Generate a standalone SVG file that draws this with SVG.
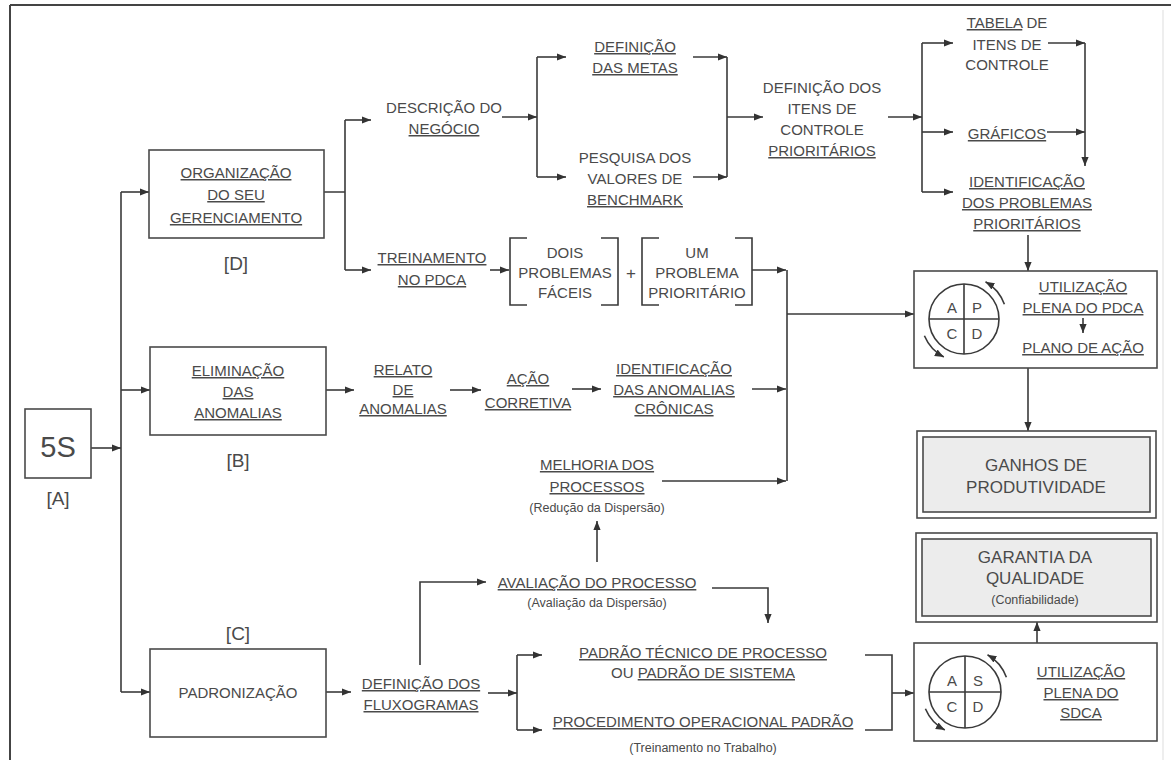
<svg xmlns="http://www.w3.org/2000/svg" width="1171" height="760" viewBox="0 0 1171 760">
<style>
text{font-family:"Liberation Sans",Arial,sans-serif;font-size:15px;fill:#4a4a4a;text-anchor:middle}
.u{text-decoration:underline}
.sm{font-size:12.5px}
.big{font-size:17px}
.lbl{font-size:19px}
.box{fill:#fff;stroke:#4a4a4a;stroke-width:1.6}
.gbox{fill:#ececec;stroke:#4a4a4a;stroke-width:1.6}
.ln{fill:none;stroke:#3a3a3a;stroke-width:1.6}
.ar{fill:none;stroke:#3a3a3a;stroke-width:1.6;marker-end:url(#ah)}
.circ{fill:#fff;stroke:#3a3a3a;stroke-width:1.6}
</style>
<defs>
<marker id="ah" viewBox="0 0 10 10" refX="10" refY="5" markerWidth="9" markerHeight="9" markerUnits="userSpaceOnUse" orient="auto">
<path d="M0,1 L10,5 L0,9 z" fill="#333"/>
</marker>
</defs>
<rect width="1171" height="760" fill="#fff"/>
<g id="frame">
<path d="M10,5 H1171" stroke="#444" stroke-width="2" fill="none"/>
<path d="M10,5 V760" stroke="#444" stroke-width="2" fill="none"/>
<path d="M1163,10 V760" stroke="#ddd" stroke-width="1" fill="none"/>
</g>
<g id="connectors">
<path class="ar" d="M91,448 H121"/>
<path class="ln" d="M121,192 V692"/>
<path class="ar" d="M121,192 H149"/>
<path class="ar" d="M121,390 H150"/>
<path class="ar" d="M121,692 H150"/>
<path class="ln" d="M324,192 H345 M345,120 V270"/>
<path class="ar" d="M345,120 H371"/>
<path class="ar" d="M345,270 H371"/>
<path class="ar" d="M502,117 H537"/>
<path class="ln" d="M537,57 V177"/>
<path class="ar" d="M537,57 H566"/>
<path class="ar" d="M537,177 H566"/>
<path class="ar" d="M693,57 H727"/>
<path class="ar" d="M693,177 H727"/>
<path class="ln" d="M727,57 V177"/>
<path class="ar" d="M727,117 H763"/>
<path class="ar" d="M888,117 H922"/>
<path class="ln" d="M922,43 V192"/>
<path class="ar" d="M922,43 H953"/>
<path class="ar" d="M922,132 H953"/>
<path class="ar" d="M922,192 H953"/>
<path class="ar" d="M1048,43 H1085"/>
<path class="ar" d="M1047,132 H1085"/>
<path class="ar" d="M1085,43 V166"/>
<path class="ar" d="M1028,235 V271"/>
<path class="ar" d="M490,270 H509"/>
<path class="ar" d="M752,270 H786"/>
<path class="ln" d="M787,270 V481"/>
<path class="ar" d="M752,389 H786"/>
<path class="ar" d="M662,481 H786"/>
<path class="ar" d="M787,314 H914"/>
<path class="ar" d="M326,390 H354"/>
<path class="ar" d="M450,390 H481"/>
<path class="ar" d="M572,389 H601"/>
<path class="ar" d="M1028,368 V431"/>
<path class="ar" d="M326,692 H351"/>
<path class="ar" d="M488,693 H517"/>
<path class="ln" d="M517,655 V730"/>
<path class="ar" d="M517,655 H542"/>
<path class="ar" d="M517,730 H542"/>
<path class="ar" d="M420,665 V582 H486"/>
<path class="ar" d="M597,562 V521"/>
<path class="ar" d="M712,588 H768 V623"/>
<path class="ln" d="M865,655 H892 V730 H865"/>
<path class="ar" d="M892,693 H914"/>
<path class="ar" d="M1037,643 V622"/>
</g>
<g id="n5s">
<rect class="box" x="25" y="409" width="66" height="69"/>
<text x="58" y="457" style="font-size:29px">5S</text>
<text class="lbl" x="58" y="505">[A]</text>
</g>
<g id="norg">
<rect class="box" x="149" y="150" width="175" height="88"/>
<text class="u" x="236" y="178">ORGANIZAÇÃO</text>
<text class="u" x="236" y="200">DO SEU</text>
<text class="u" x="236" y="223">GERENCIAMENTO</text>
<text class="lbl" x="236" y="270">[D]</text>
</g>
<g id="nelim">
<rect class="box" x="150" y="347" width="176" height="88"/>
<text class="u" x="238" y="376">ELIMINAÇÃO</text>
<text class="u" x="238" y="397">DAS</text>
<text class="u" x="238" y="418">ANOMALIAS</text>
<text class="lbl" x="238" y="467">[B]</text>
</g>
<g id="npad">
<text class="lbl" x="238" y="640">[C]</text>
<rect class="box" x="150" y="649" width="176" height="88"/>
<text x="238" y="698">PADRONIZAÇÃO</text>
</g>
<g id="ndesc">
<text x="444" y="113">DESCRIÇÃO DO</text>
<text class="u" x="444" y="134">NEGÓCIO</text>
</g>
<g id="nmetas">
<text class="u" x="635" y="52">DEFINIÇÃO</text>
<text class="u" x="635" y="73">DAS METAS</text>
</g>
<g id="nbench">
<text x="635" y="163">PESQUISA DOS</text>
<text x="635" y="184">VALORES DE</text>
<text class="u" x="635" y="205">BENCHMARK</text>
</g>
<g id="nitens">
<text x="822" y="93">DEFINIÇÃO DOS</text>
<text x="822" y="114">ITENS DE</text>
<text x="822" y="135">CONTROLE</text>
<text class="u" x="822" y="156">PRIORITÁRIOS</text>
</g>
<g id="ntabela">
<text x="1007" y="28"><tspan class="u">TABELA</tspan> DE</text>
<text x="1007" y="50">ITENS DE</text>
<text x="1007" y="70">CONTROLE</text>
</g>
<g id="ngraf">
<text class="u" x="1007" y="139">GRÁFICOS</text>
</g>
<g id="nidprob">
<text class="u" x="1027" y="187">IDENTIFICAÇÃO</text>
<text class="u" x="1027" y="208">DOS PROBLEMAS</text>
<text class="u" x="1027" y="229">PRIORITÁRIOS</text>
</g>
<g id="ntrein">
<text class="u" x="432" y="263">TREINAMENTO</text>
<text class="u" x="432" y="285">NO PDCA</text>
</g>
<g id="ndois">
<path class="ln" d="M527,238 H510 V305 H527 M601,238 H618 V305 H601"/>
<text x="565" y="258">DOIS</text>
<text x="565" y="278">PROBLEMAS</text>
<text x="565" y="298">FÁCEIS</text>
</g>
<text x="631" y="279" style="font-size:17px">+</text>
<g id="num">
<path class="ln" d="M659,238 H642 V305 H659 M735,238 H752 V305 H735"/>
<text x="697" y="258">UM</text>
<text x="697" y="278">PROBLEMA</text>
<text x="697" y="298">PRIORITÁRIO</text>
</g>
<g id="nrelato">
<text class="u" x="403" y="375">RELATO</text>
<text class="u" x="403" y="395">DE</text>
<text class="u" x="403" y="414">ANOMALIAS</text>
</g>
<g id="nacao">
<text class="u" x="528" y="384">AÇÃO</text>
<text class="u" x="528" y="408">CORRETIVA</text>
</g>
<g id="nidanom">
<text class="u" x="674" y="374">IDENTIFICAÇÃO</text>
<text class="u" x="674" y="395">DAS ANOMALIAS</text>
<text class="u" x="674" y="414">CRÔNICAS</text>
</g>
<g id="nmelhoria">
<text class="u" x="597" y="470">MELHORIA DOS</text>
<text class="u" x="597" y="492">PROCESSOS</text>
<text class="sm" x="597" y="512">(Redução da Dispersão)</text>
</g>
<g id="navalia">
<text class="u" x="597" y="588">AVALIAÇÃO DO PROCESSO</text>
<text class="sm" x="597" y="607">(Avaliação da Dispersão)</text>
</g>
<g id="npadtec">
<text class="u" x="703" y="658">PADRÃO TÉCNICO DE PROCESSO</text>
<text x="703" y="678">OU <tspan class="u">PADRÃO DE SISTEMA</tspan></text>
</g>
<g id="nfluxo">
<text class="u" x="421" y="689">DEFINIÇÃO DOS</text>
<text class="u" x="421" y="710">FLUXOGRAMAS</text>
</g>
<g id="nproced">
<text class="u" x="703" y="727">PROCEDIMENTO OPERACIONAL PADRÃO</text>
<text class="sm" x="703" y="752">(Treinamento no Trabalho)</text>
</g>
<g id="npdca">
<rect class="box" x="914" y="271" width="243" height="97"/>
<circle class="circ" cx="964" cy="319" r="35"/>
<path class="ln" d="M929,319 H999 M964,284 V354"/>
<text x="952" y="313">A</text>
<text x="977" y="313">P</text>
<text x="952" y="339">C</text>
<text x="977" y="339">D</text>
<path class="ar" d="M1004.4,304.3 A43,43 0 0 0 985.5,281.8"/>
<path class="ar" d="M924.4,335.8 A43,43 0 0 0 943.8,357"/>
<text class="u" x="1083" y="292">UTILIZAÇÃO</text>
<text class="u" x="1083" y="313">PLENA DO PDCA</text>
<path class="ar" d="M1083,318 V333"/>
<text class="u" x="1083" y="353">PLANO DE AÇÃO</text>
</g>
<g id="nganhos">
<rect class="box" x="917" y="431" width="239" height="87"/>
<rect class="gbox" x="923" y="437" width="227" height="75"/>
<text class="big" x="1036" y="471">GANHOS DE</text>
<text class="big" x="1036" y="493">PRODUTIVIDADE</text>
</g>
<g id="ngarantia">
<rect class="box" x="916" y="533" width="241" height="89"/>
<rect class="gbox" x="922" y="539" width="229" height="77"/>
<text class="big" x="1035" y="563">GARANTIA DA</text>
<text class="big" x="1035" y="584">QUALIDADE</text>
<text class="sm" x="1035" y="604">(Confiabilidade)</text>
</g>
<g id="nsdca">
<rect class="box" x="914" y="643" width="243" height="98"/>
<circle class="circ" cx="965" cy="692" r="36"/>
<path class="ln" d="M929,692 H1001 M965,656 V728"/>
<text x="952" y="686">A</text>
<text x="978" y="686">S</text>
<text x="952" y="712">C</text>
<text x="978" y="712">D</text>
<path class="ar" d="M1006.4,677.3 A43,43 0 0 0 987.5,654.8"/>
<path class="ar" d="M925.4,708.8 A43,43 0 0 0 944.8,730"/>
<text class="u" x="1081" y="677">UTILIZAÇÃO</text>
<text class="u" x="1081" y="698">PLENA DO</text>
<text class="u" x="1081" y="718">SDCA</text>
</g>
</svg>
